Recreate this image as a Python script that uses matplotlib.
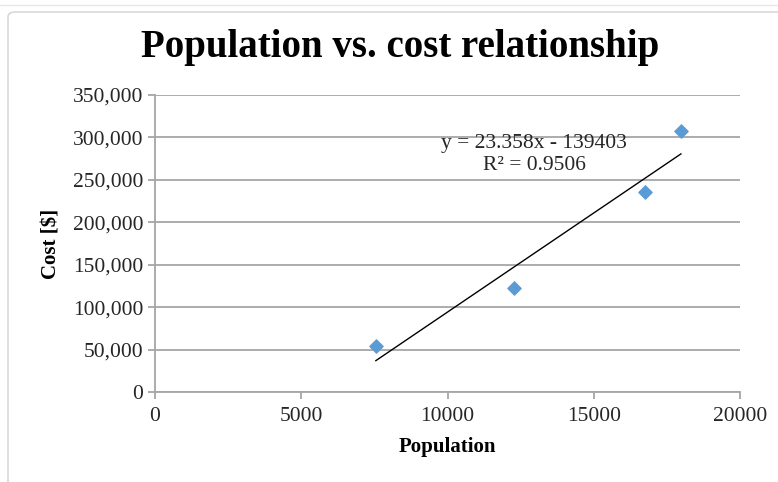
import matplotlib.pyplot as plt
import numpy as np
from matplotlib.patches import FancyBboxPatch

# data
population = [7550, 12270, 16750, 17980]
cost = [54000, 122000, 236000, 307000]
slope = 23.358
intercept = -139403
y_ticks = [0, 50000, 100000, 150000, 200000, 250000, 300000, 350000]
x_ticks = [0, 5000, 10000, 15000, 20000]

plt.rcParams['font.family'] = ['Liberation Serif', 'DejaVu Serif']

fig = plt.figure(figsize=(7.78, 4.82), dpi=100)
ax = fig.add_axes([155 / 778, 90 / 482, 585 / 778, 297 / 482])

# faint chart-area border like excel
fig.patches.append(FancyBboxPatch((8 / 778, -0.1), 1.0, 1.1 - 12 / 482,
                                  boxstyle="round,pad=0,rounding_size=0.01",
                                  transform=fig.transFigure, fill=False,
                                  edgecolor="#D9D9D9", linewidth=1.2))
fig.add_artist(plt.Line2D([0, 1], [1 - 5 / 482, 1 - 5 / 482], transform=fig.transFigure,
                          color="#E6E6E6", linewidth=1.0))

ax.set_xlim(0, 20000)
ax.set_ylim(0, 350000)
ax.set_yticks(y_ticks)
ax.set_yticklabels([f"{v:,}" for v in y_ticks])
ax.set_xticks(x_ticks)
ax.set_xticklabels([str(v) for v in x_ticks])

ax.grid(axis="y", color="#A6A6A6", linewidth=1.3)
ax.set_axisbelow(True)
for s in ["top", "right"]:
    ax.spines[s].set_visible(False)
for s in ["left", "bottom"]:
    ax.spines[s].set_color("#A6A6A6")
    ax.spines[s].set_linewidth(1.3)
ax.tick_params(colors="#A6A6A6", labelcolor="#262626", labelsize=15.5, length=5, width=1.3)
ax.tick_params(axis="x", pad=6)

# trendline
xl = np.array([population[0], population[-1]])
ax.plot(xl, slope * xl + intercept, color="black", linewidth=1.0, zorder=3)

ax.scatter(population, cost, marker="D", s=45, color="#5B9BD5", zorder=4)

ax.text(12960, 280000, "y = 23.358x - 139403\nR² = 0.9506", ha="center", va="center",
        fontsize=15.5, linespacing=1.2, color="#262626")

fig.text(400 / 778, 1 - 48 / 482, "Population vs. cost relationship",
         ha="center", va="center", fontsize=28, fontweight="bold")
ax.set_xlabel("Population", fontsize=15, fontweight="bold", labelpad=8)
ax.set_ylabel("Cost [$]", fontsize=15, fontweight="bold", labelpad=8)

fig.savefig("out.png", dpi=100)
